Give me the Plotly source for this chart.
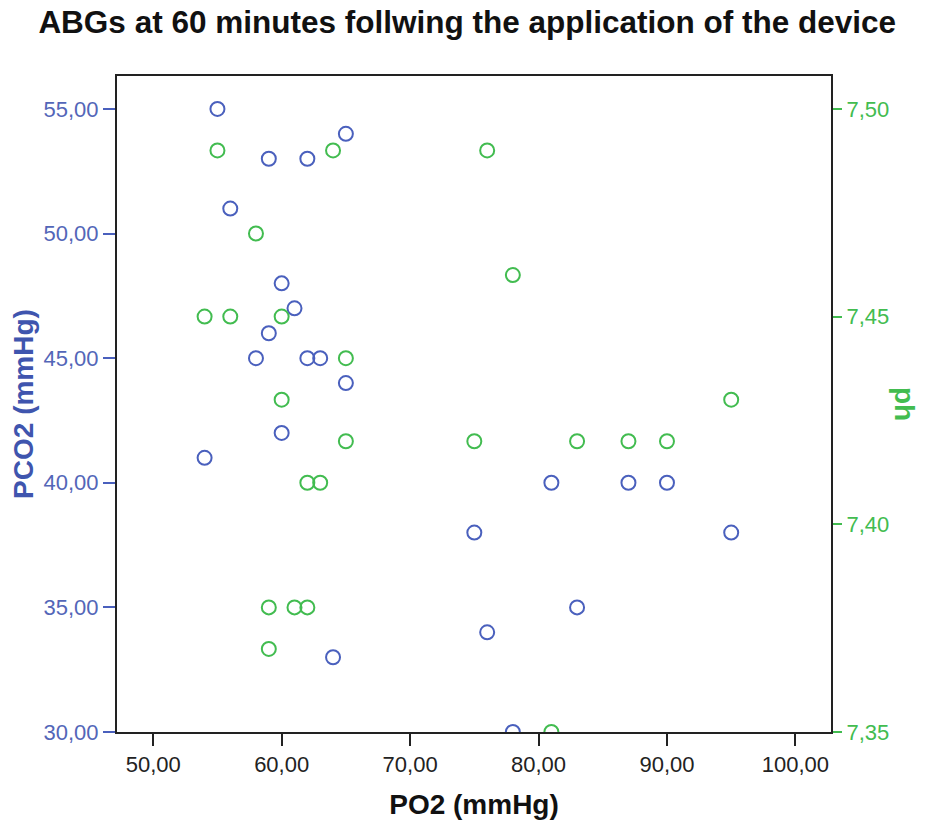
import plotly.graph_objects as go

# PO2 (x) and PCO2 (left axis) pairs
po2_pco2 = [55, 59, 62, 65, 56, 60, 61, 59, 58, 62, 63, 65, 60, 54, 81, 87, 90, 75, 95, 83, 76, 64, 78]
pco2 = [55, 53, 53, 54, 51, 48, 47, 46, 45, 45, 45, 44, 42, 41, 40, 40, 40, 38, 38, 35, 34, 33, 30]

# PO2 (x) and pH (right axis) pairs
po2_ph = [55, 64, 76, 58, 78, 54, 56, 60, 65, 60, 95, 65, 75, 83, 87, 90, 62, 63, 59, 61, 62, 59, 81]
ph = [7.49, 7.49, 7.49, 7.47, 7.46, 7.45, 7.45, 7.45, 7.44, 7.43, 7.43, 7.42, 7.42, 7.42, 7.42, 7.42,
      7.41, 7.41, 7.38, 7.38, 7.38, 7.37, 7.35]

x_ticks = [50, 60, 70, 80, 90, 100]
y_ticks = [30, 35, 40, 45, 50, 55]
y2_ticks = [7.35, 7.40, 7.45, 7.50]

BLUE = "#4A60BD"
BLUE_T = "#5366B8"
GREEN = "#42BC50"
FONT = "Liberation Sans, Arial, sans-serif"

x_range = [47.18, 102.77]
y_range = [30, 56.32]
y2_range = [7.35, 7.35 + (y_range[1] - y_range[0]) * 0.006]

fig = go.Figure()
fig.add_trace(go.Scatter(
    x=po2_pco2, y=pco2, mode="markers", name="PCO2",
    marker=dict(symbol="circle-open", size=14, color=BLUE, line=dict(width=2, color=BLUE)),
    yaxis="y", showlegend=False,
))
fig.add_trace(go.Scatter(
    x=po2_ph, y=ph, mode="markers", name="ph",
    marker=dict(symbol="circle-open", size=14, color=GREEN, line=dict(width=2, color=GREEN)),
    yaxis="y2", showlegend=False,
))

fig.update_layout(
    width=927, height=829,
    margin=dict(l=117, r=96, t=76, b=97),
    paper_bgcolor="white", plot_bgcolor="white",
    separators=",.",
    font=dict(family=FONT),
    title=dict(
        text="<b>ABGs at 60 minutes follwing the application of the device</b>",
        x=0.504, xref="container", xanchor="center",
        y=1 - 22 / 829, yref="container", yanchor="middle",
        font=dict(size=31.5, color="#111", family=FONT),
    ),
    xaxis=dict(
        range=x_range, tickvals=x_ticks, tickformat=".2f",
        showgrid=False, zeroline=False,
        showline=True, linecolor="#222", linewidth=2, mirror=True,
        ticks="outside", ticklen=12, tickwidth=2, tickcolor="#222",
        tickfont=dict(size=22, color="#222", family=FONT),
        title=dict(text="<b>PO2 (mmHg)</b>", font=dict(size=28, color="#111", family=FONT), standoff=18),
    ),
    yaxis=dict(
        range=y_range, tickvals=y_ticks, tickformat=".2f",
        showgrid=False, zeroline=False,
        showline=True, linecolor="#222", linewidth=2, mirror=True,
        ticks="outside", ticklen=12, tickwidth=2, tickcolor=BLUE,
        tickfont=dict(size=22, color=BLUE_T, family=FONT),
        title=dict(text="<b>PCO2 (mmHg)</b>", font=dict(size=28, color="#3F55AE", family=FONT), standoff=2),
    ),
    yaxis2=dict(
        range=y2_range, tickvals=y2_ticks, tickformat=".2f",
        overlaying="y", side="right",
        showgrid=False, zeroline=False,
        showline=True, linecolor="#222", linewidth=2,
        ticks="outside", ticklen=9, tickwidth=2, tickcolor=GREEN,
        tickfont=dict(size=22, color=GREEN, family=FONT),
    ),
    annotations=[dict(
        text="<b>ph</b>", textangle=90,
        xref="paper", yref="paper", x=1, y=0.5,
        xshift=74, xanchor="center", yanchor="middle", showarrow=False,
        font=dict(size=28, color=GREEN, family=FONT),
    )],
)

fig.write_html("out.html")
